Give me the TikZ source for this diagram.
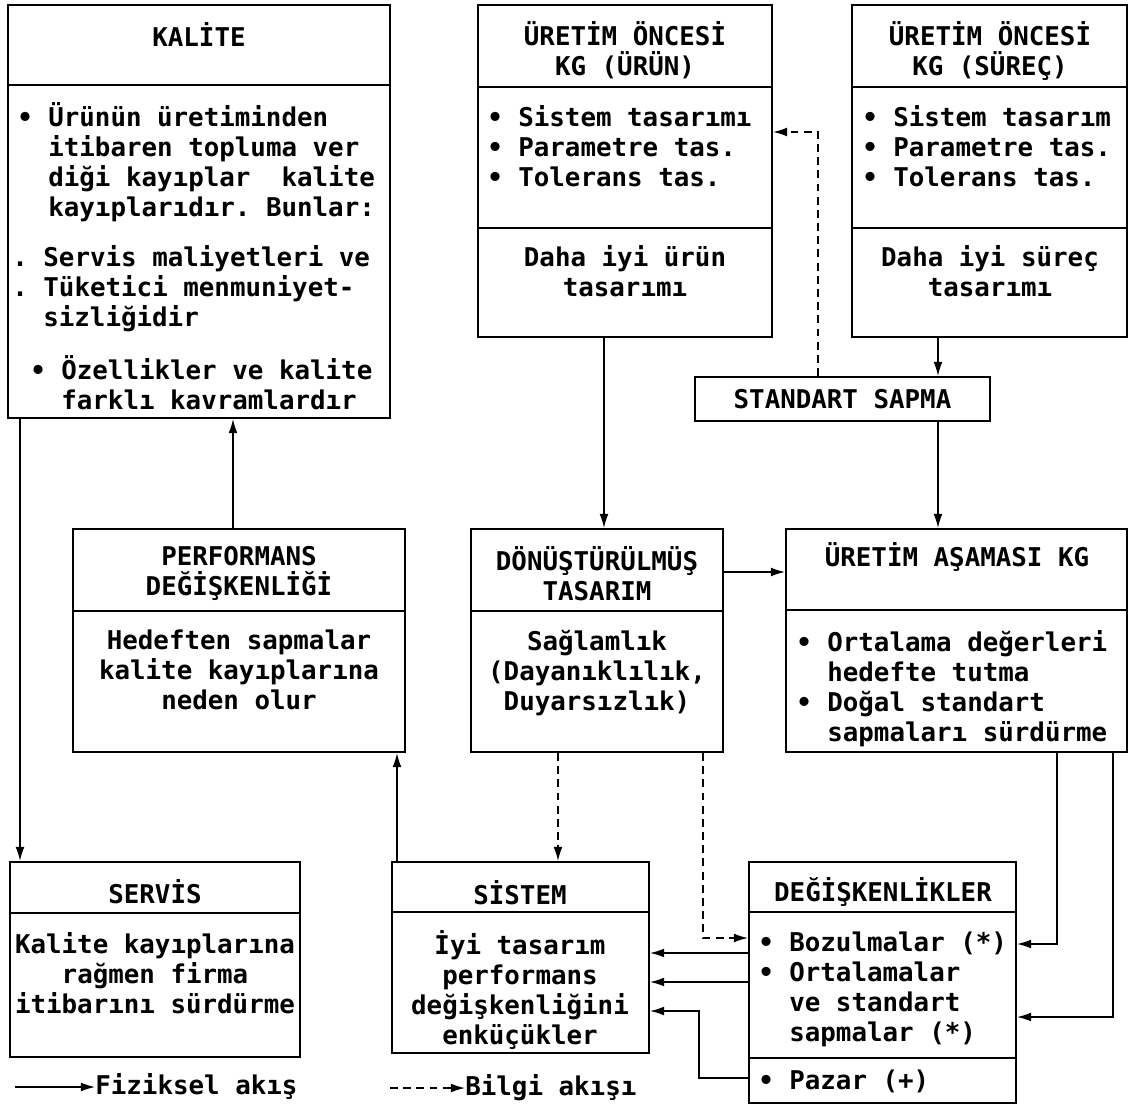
\documentclass[tikz,border=0pt]{standalone}
\usepackage{fontspec}
\setmonofont{DejaVu Sans Mono}
\usetikzlibrary{arrows.meta,fit}
\newcommand\blt{\makebox[1.2em][l]{•}}
\newcommand\indt{\hspace*{1.2em}}

\begin{document}
\begin{tikzpicture}[x=0.02cm,y=-0.02cm,
  every node/.style={font=\fontsize{14.7}{17.07}\selectfont\ttfamily\bfseries,inner sep=0pt},
  frame/.style={draw,line width=1.2pt,fit={#1}},
  txt/.style={align=left,anchor=north west},
  ctr/.style={align=center,anchor=north},
  sep/.style={line width=1.2pt},
  flow/.style={line width=0.7pt,-{Latex[length=8pt,width=5pt]}},
  info/.style={flow,dash pattern=on 4.5pt off 3pt}]
  \fill[white] (0,0) rectangle (1134,1106);

  \node[frame={(8,5) (390,418)}] (kalite) {};
  \draw[sep] (kalite.west |- 0,85) -- (kalite.east |- 0,85);
  \node (kalitehd) at (199,35) {KALİTE};
  \node[txt] (kalite1) at (17,102) {\blt Ürünün üretiminden\\\indt itibaren topluma ver\\\indt diği kayıplar~~kalite\\\indt kayıplarıdır. Bunlar:};
  \node[txt] (kalite2) at (12,245) {.~Servis maliyetleri ve\\.~Tüketici menmuniyet-\\\indt sizliğidir};
  \node[txt] (kalite3) at (30,355) {\blt Özellikler ve kalite\\\indt farklı kavramlardır};

  \node[frame={(478,5) (772,337)}] (urun) {};
  \draw[sep] (urun.west |- 0,87) -- (urun.east |- 0,87);
  \draw[sep] (urun.west |- 0,228) -- (urun.east |- 0,228);
  \node[ctr] (urunhd) at (625,21) {ÜRETİM ÖNCESİ\\KG (ÜRÜN)};
  \node[txt] (urun1) at (487,105) {\blt Sistem tasarımı\\\blt Parametre tas.\\\blt Tolerans tas.};
  \node[ctr] (urun2) at (625,245) {Daha iyi ürün\\tasarımı};

  \node[frame={(852,5) (1127,337)}] (surec) {};
  \draw[sep] (surec.west |- 0,87) -- (surec.east |- 0,87);
  \draw[sep] (surec.west |- 0,228) -- (surec.east |- 0,228);
  \node[ctr] (surechd) at (990,21) {ÜRETİM ÖNCESİ\\KG (SÜREÇ)};
  \node[txt] (surec1) at (862,105) {\blt Sistem tasarım\\\blt Parametre tas.\\\blt Tolerans tas.};
  \node[ctr] (surec2) at (990,245) {Daha iyi süreç\\tasarımı};

  \node[frame={(695,377) (990,421)}] (sapma) {};
  \node (sapmatxt) at (sapma) {STANDART SAPMA};

  \node[frame={(73,529) (405,752)}] (perf) {};
  \draw[sep] (perf.west |- 0,611) -- (perf.east |- 0,611);
  \node[ctr] (perfhd) at (239,546) {PERFORMANS\\DEĞİŞKENLİĞİ};
  \node[ctr] (perf1) at (239,630) {Hedeften sapmalar\\kalite kayıplarına\\neden olur};

  \node[frame={(471,529) (723,752)}] (donus) {};
  \draw[sep] (donus.west |- 0,611) -- (donus.east |- 0,611);
  \node[ctr] (donushd) at (597,546) {DÖNÜŞTÜRÜLMÜŞ\\TASARIM};
  \node[ctr] (donus1) at (597,630) {Sağlamlık\\(Dayanıklılık,\\Duyarsızlık)};

  \node[frame={(786,529) (1127,752)}] (asama) {};
  \draw[sep] (asama.west |- 0,610) -- (asama.east |- 0,610);
  \node (asamahd) at (957,557) {ÜRETİM AŞAMASI KG};
  \node[txt] (asama1) at (796,630) {\blt Ortalama değerleri\\\indt hedefte tutma\\\blt Doğal standart\\\indt sapmaları sürdürme};

  \node[frame={(10,862) (300,1057)}] (servis) {};
  \draw[sep] (servis.west |- 0,913) -- (servis.east |- 0,913);
  \node (servishd) at (155,892) {SERVİS};
  \node[ctr] (servis1) at (155,932) {Kalite kayıplarına\\rağmen firma\\itibarını sürdürme};

  \node[frame={(392,862) (649,1053)}] (sistem) {};
  \draw[sep] (sistem.west |- 0,912) -- (sistem.east |- 0,912);
  \node (sistemhd) at (520,893) {SİSTEM};
  \node[ctr] (sistem1) at (520,930) {İyi tasarım\\performans\\değişkenliğini\\enküçükler};

  \node[frame={(749,862) (1016,1103)}] (degisk) {};
  \draw[sep] (degisk.west |- 0,912) -- (degisk.east |- 0,912);
  \draw[sep] (degisk.west |- 0,1058) -- (degisk.east |- 0,1058);
  \node (degiskhd) at (883,892) {DEĞİŞKENLİKLER};
  \node[txt] (degisk1) at (758,932) {\blt Bozulmalar (*)\\\blt Ortalamalar\\\indt ve standart\\\indt sapmalar (*)};
  \node[txt] (degisk2) at (758,1070) {\blt Pazar (+)};

  \draw[flow] (kalite.south -| 20,0) -- (servis.north -| 20,0);
  \draw[flow] (perf.north -| 233,0) -- (kalite.south -| 233,0);
  \draw[flow] (sistem.north -| 397,0) -- (perf.south -| 397,0);
  \draw[flow] (urun.south -| 604,0) -- (donus.north -| 604,0);
  \draw[flow] (surec.south -| 938,0) -- (sapma.north -| 938,0);
  \draw[flow] (sapma.south -| 938,0) -- (asama.north -| 938,0);
  \draw[info] (sapma.north -| 818,0) |- (urun.east |- 0,132);
  \draw[flow] (donus.east |- 0,572) -- (asama.west |- 0,572);
  \draw[info] (donus.south -| 558,0) -- (sistem.north -| 558,0);
  \draw[info] (donus.south -| 703,0) |- (degisk.west |- 0,938);
  \draw[flow] (asama.south -| 1057,0) |- (degisk.east |- 0,944);
  \draw[flow] (asama.south -| 1113,0) |- (degisk.east |- 0,1017);
  \draw[flow] (degisk.west |- 0,953) -- (sistem.east |- 0,953);
  \draw[flow] (degisk.west |- 0,982) -- (sistem.east |- 0,982);
  \draw[flow] (degisk.west |- 0,1078) -| (699,1011) -- (sistem.east |- 0,1011);

  \node[anchor=west] (fizik) at (95,1087) {Fiziksel akış};
  \coordinate (fizik0) at (15,1087);
  \draw[flow] (fizik0) -- (fizik.west);
  \node[anchor=west] (bilgi) at (465,1088) {Bilgi akışı};
  \coordinate (bilgi0) at (390,1088);
  \draw[info] (bilgi0) -- (bilgi.west);
\end{tikzpicture}
\end{document}
